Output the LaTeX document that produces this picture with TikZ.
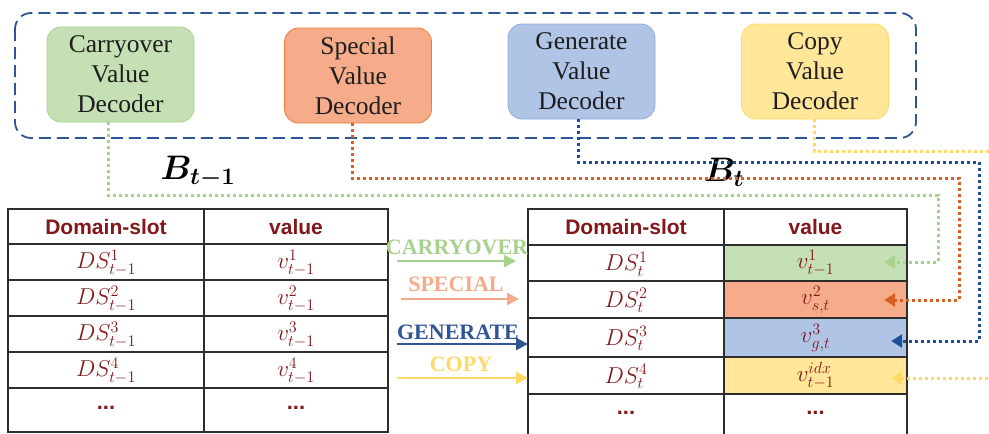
\RequirePackage{fix-cm}
\documentclass[tikz,border=0pt]{standalone}
\usepackage{fontspec}
\setmainfont{Liberation Serif}
\newfontfamily\hdrfont{Liberation Sans}
\usepackage{bm}
\usetikzlibrary{arrows.meta}
\definecolor{dblue}{RGB}{47,85,151}
\definecolor{cgreen}{RGB}{197,224,180}
\definecolor{bgreen}{RGB}{169,209,142}
\definecolor{corange}{RGB}{246,172,138}
\definecolor{borange}{RGB}{237,125,49}
\definecolor{dorange}{RGB}{216,96,36}
\definecolor{lorange}{RGB}{245,170,138}
\definecolor{cblue}{RGB}{176,196,230}
\definecolor{bblue}{RGB}{143,170,220}
\definecolor{lblue}{RGB}{31,78,153}
\definecolor{cyellow}{RGB}{255,230,153}
\definecolor{byellow}{RGB}{255,217,102}
\definecolor{dred}{RGB}{130,24,26}
\definecolor{tgray}{RGB}{30,30,30}
\definecolor{gridc}{RGB}{45,45,45}
\begin{document}
\begin{tikzpicture}[x=1pt,y=-1pt,
  decoder/.style={rounded corners=14pt, line width=0.8pt, minimum width=147pt, minimum height=95pt,
    inner sep=0pt, text width=145pt, align=center, text=tgray, font=\fontsize{25.5}{30}\selectfont},
  tbl/.style={draw=gridc, line width=1.6pt},
  cellt/.style={text=dred, inner sep=0pt, font=\fontsize{23}{26}\selectfont},
  hdr/.style={text=dred, inner sep=0pt, font=\hdrfont\bfseries\fontsize{21}{24}\selectfont},
  dots/.style={text=dred, inner sep=0pt, font=\hdrfont\bfseries\fontsize{22}{24}\selectfont},
  vcell/.style={minimum width=183pt, inner sep=0pt, draw=none},
  dotline/.style={line width=3pt, dash pattern=on 3pt off 3pt, -{Triangle[length=11pt,width=13pt]}},
  oparrow/.style={line width=2.6pt, -{Triangle[length=12pt,width=12pt]}},
  oplabel/.style={inner sep=0pt, font=\bfseries\fontsize{22}{24}\selectfont},
  blabel/.style={inner sep=0pt, font=\fontsize{34}{36}\selectfont}
]
\useasboundingbox (0,0) rectangle (989,434);
\clip (0,0) rectangle (989,434);
\fill[white] (0,0) rectangle (989,434);

% dashed container
\draw[dblue, line width=1.8pt, dash pattern=on 12pt off 6pt, rounded corners=16pt] (15,13) rectangle (916,138);

% decoders
\node[decoder, fill=cgreen, draw=bgreen] (cdec) at (120.5,74.5) {Carryover\\Value\\Decoder};
\node[decoder, fill=corange, draw=borange] (sdec) at (358,75.5) {Special\\Value\\Decoder};
\node[decoder, fill=cblue, draw=bblue] (gdec) at (581.5,71.5) {Generate\\Value\\Decoder};
\node[decoder, fill=cyellow, draw=byellow] (ydec) at (815,71.5) {Copy\\Value\\Decoder};

% B labels
\node[blabel] (bprev) at (198,172) {$\bm{B_{t-1}}$};
\node[blabel] (bcur) at (724,172) {$\bm{B_{t}}$};

% right table cell fills
\node[vcell, fill=cgreen, minimum height=36pt] (rv1) at (815.5,263) {};
\node[vcell, fill=corange, minimum height=37pt] (rv2) at (815.5,299.5) {};
\node[vcell, fill=cblue, minimum height=39pt] (rv3) at (815.5,337.5) {};
\node[vcell, fill=cyellow, minimum height=37pt] (rv4) at (815.5,375.5) {};

% left table grid
\draw[tbl] (8,209) rectangle (388,432);
\foreach \yy in {244,280,316,352,388} \draw[tbl] (8,\yy) -- (388,\yy);
\draw[tbl] (204,209) -- (204,432);
% right table grid
\draw[tbl] (528,209) rectangle (907,450);
\foreach \yy in {245,281,318,357,394} \draw[tbl] (528,\yy) -- (907,\yy);
\draw[tbl] (724,209) -- (724,450);

% left table text
\node[hdr] (lh1) at (106,227) {Domain-slot};
\node[hdr] (lh2) at (296,227) {value};
\node[cellt] (ld1) at (106,263) {$DS^{1}_{t-1}$};
\node[cellt] (lv1) at (296,263) {$v^{1}_{t-1}$};
\node[cellt] (ld2) at (106,299) {$DS^{2}_{t-1}$};
\node[cellt] (lv2) at (296,299) {$v^{2}_{t-1}$};
\node[cellt] (ld3) at (106,335) {$DS^{3}_{t-1}$};
\node[cellt] (lv3) at (296,335) {$v^{3}_{t-1}$};
\node[cellt] (ld4) at (106,371) {$DS^{4}_{t-1}$};
\node[cellt] (lv4) at (296,371) {$v^{4}_{t-1}$};
\node[dots] (ld5) at (106,408) {...};
\node[dots] (lv5) at (296,408) {...};

% right table text
\node[hdr] (rh1) at (626,227) {Domain-slot};
\node[hdr] (rh2) at (815.5,227) {value};
\node[cellt] (rd1) at (626,264) {$DS^{1}_{t}$};
\node[cellt] at (rv1) {$v^{1}_{t-1}$};
\node[cellt] (rd2) at (626,300.5) {$DS^{2}_{t}$};
\node[cellt] at (rv2) {$v^{2}_{s,t}$};
\node[cellt] (rd3) at (626,338.5) {$DS^{3}_{t}$};
\node[cellt] at (rv3) {$v^{3}_{g,t}$};
\node[cellt] (rd4) at (626,376.5) {$DS^{4}_{t}$};
\node[cellt] at (rv4) {$v^{idx}_{t-1}$};
\node[dots] (rd5) at (626,413) {...};
\node[dots] (rv5) at (815.5,413) {...};

% operation arrows
\node[oplabel, text=bgreen] (lcarry) at (457,247) {CARRYOVER};
\coordinate (ca1) at (397,261); \coordinate (ca2) at (516,261);
\draw[oparrow, bgreen] (ca1) -- (ca2);
\node[oplabel, text=lorange] (lspec) at (456,284) {SPECIAL};
\coordinate (sa1) at (401,299); \coordinate (sa2) at (519,299);
\draw[oparrow, lorange] (sa1) -- (sa2);
\node[oplabel, text=dblue] (lgen) at (458,332) {GENERATE};
\coordinate (ga1) at (397,344); \coordinate (ga2) at (528,344);
\draw[oparrow, dblue] (ga1) -- (ga2);
\node[oplabel, text=byellow] (lcopy) at (461,364) {COPY};
\coordinate (ya1) at (397,378); \coordinate (ya2) at (528,378);
\draw[oparrow, byellow] (ya1) -- (ya2);

% dotted connectors from decoders to cells
\draw[dotline, bgreen] (cdec.south -| 108,0) -- (108,195) -- (938,195) -- (938,262) -- ([xshift=-23pt]rv1.east |- 0,262);
\draw[dotline, dorange] (sdec.south -| 352,0) -- (352,178) -- (959,178) -- (959,300) -- ([xshift=-23pt]rv2.east |- 0,300);
\draw[dotline, lblue] (gdec.south -| 578,0) -- (578,162) -- (979,162) -- (979,341) -- ([xshift=-16pt]rv3.east |- 0,341);
\coordinate (yout1) at (1000,151);
\coordinate (yout2) at (1000,378);
\draw[line width=3pt, dash pattern=on 3pt off 3pt, byellow] (ydec.south -| 814,0) -- (814,151) -- (yout1);
\draw[dotline, byellow] (yout2) -- ([xshift=-16pt]rv4.east |- 0,378);
\end{tikzpicture}
\end{document}
